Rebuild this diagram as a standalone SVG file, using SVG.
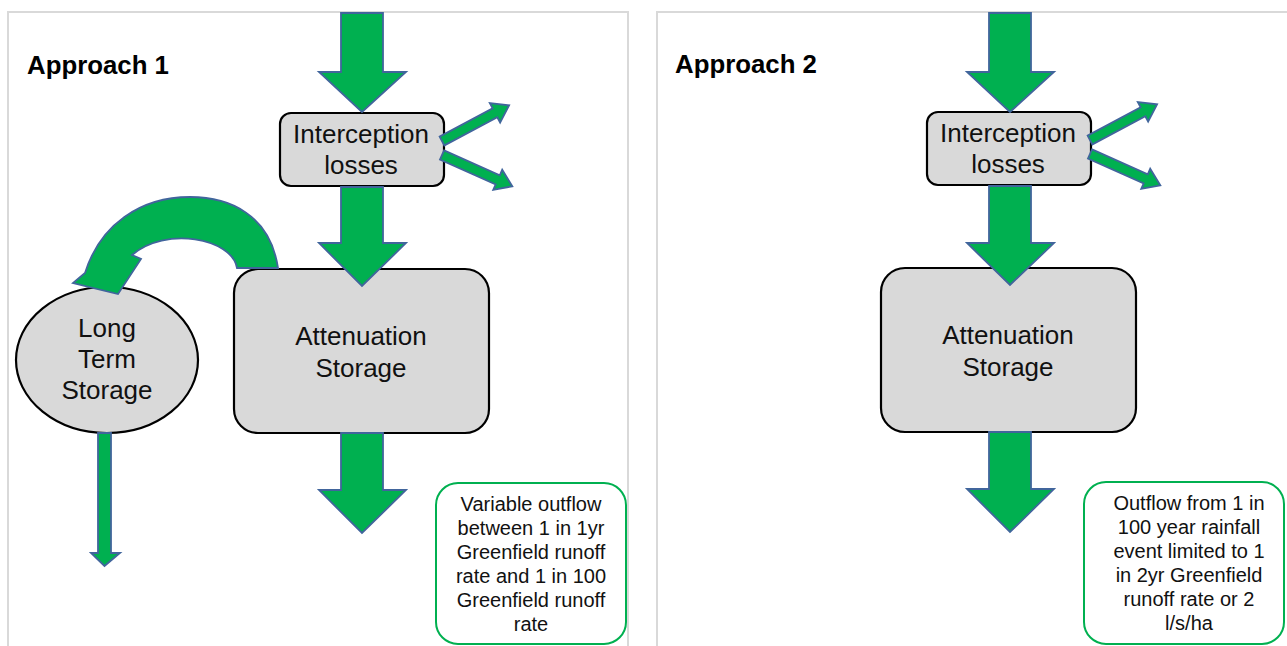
<svg xmlns="http://www.w3.org/2000/svg" width="1287" height="646" viewBox="0 0 1287 646">
<style>
.panel{fill:#fff;stroke:#d9d9d9;stroke-width:2}
.box{fill:#d9d9d9;stroke:#000;stroke-width:2.2}
.arr{fill:#00b050;stroke:#41659c;stroke-width:1.8;stroke-linejoin:miter}
.note{fill:#fff;stroke:#00b050;stroke-width:2}
.title{font-family:"Liberation Sans",Arial,sans-serif;font-weight:bold;font-size:25.8px;fill:#000}
.lbl{font-family:"Liberation Sans",Arial,sans-serif;font-size:26px;fill:#111;text-anchor:middle}
.nt{font-family:"Liberation Sans",Arial,sans-serif;font-size:20px;fill:#111;text-anchor:middle}
</style>
<rect width="1287" height="646" fill="#fff"/>
<rect class="panel" x="8" y="12" width="620" height="660"/>
<rect class="panel" x="657" y="12" width="660" height="660"/>
<text class="title" x="27" y="74">Approach 1</text>
<text class="title" x="675" y="73">Approach 2</text>

<g id="interception1">
  <rect class="box" x="280" y="113" width="164" height="73" rx="11"/>
  <text class="lbl" x="361" y="143">Interception</text>
  <text class="lbl" x="361" y="174">losses</text>
</g>
<g id="attenuation1">
  <rect class="box" x="234" y="269" width="255" height="164" rx="24"/>
  <text class="lbl" x="361" y="345">Attenuation</text>
  <text class="lbl" x="361" y="377">Storage</text>
</g>
<g id="longterm1">
  <ellipse class="box" cx="107" cy="360" rx="91" ry="73"/>
  <text class="lbl" x="107" y="337">Long</text>
  <text class="lbl" x="107" y="368">Term</text>
  <text class="lbl" x="107" y="399">Storage</text>
</g>
<g id="note1">
  <rect class="note" x="436" y="483" width="190" height="161" rx="22"/>
  <text class="nt" x="531" y="511">Variable outflow</text>
  <text class="nt" x="531" y="535">between 1 in 1yr</text>
  <text class="nt" x="531" y="559">Greenfield runoff</text>
  <text class="nt" x="531" y="583">rate and 1 in 100</text>
  <text class="nt" x="531" y="607">Greenfield runoff</text>
  <text class="nt" x="531" y="631">rate</text>
</g>

<g id="interception2">
  <rect class="box" x="927" y="112" width="164" height="73" rx="11"/>
  <text class="lbl" x="1008" y="142">Interception</text>
  <text class="lbl" x="1008" y="173">losses</text>
</g>
<g id="attenuation2">
  <rect class="box" x="881" y="268" width="255" height="164" rx="24"/>
  <text class="lbl" x="1008" y="344">Attenuation</text>
  <text class="lbl" x="1008" y="376">Storage</text>
</g>
<g id="note2">
  <rect class="note" x="1084" y="482" width="200" height="162" rx="22"/>
  <text class="nt" x="1189" y="510">Outflow from 1 in</text>
  <text class="nt" x="1189" y="534">100 year rainfall</text>
  <text class="nt" x="1189" y="558">event limited to 1</text>
  <text class="nt" x="1189" y="582">in 2yr Greenfield</text>
  <text class="nt" x="1189" y="606">runoff rate or 2</text>
  <text class="nt" x="1189" y="630">l/s/ha</text>
</g>

<g id="connectors">
  <!-- panel 1 -->
  <polygon class="arr" points="341,13 383,13 383,72 406,72 362,112 319,72 341,72"/>
  <polygon class="arr" points="341,187 383,187 383,243 406,243 362,286 319,243 341,243"/>
  <polygon class="arr" points="341,433 383,433 383,490 406,490 362,533 319,490 341,490"/>
  <polygon class="arr" points="98,433 111,433 111,553 120,553 104.5,566 91,553 98,553"/>
  <polygon class="arr" transform="translate(442,141) rotate(-28)" points="0,-5 60,-5 60,-11 76,0 60,11 60,5 0,5"/>
  <polygon class="arr" transform="translate(442,155) rotate(24)" points="0,-5 61,-5 61,-11 77,0 61,11 61,5 0,5"/>
  <path class="arr" d="M278,268 C270,215 230,197 190,197 C140,197 100,225 85,273 L73,283 L118,294 L141,259 L132,255 C165,226 232,238 237,268 Z"/>
  <!-- panel 2 -->
  <g transform="translate(648,0)">
    <polygon class="arr" points="341,13 383,13 383,72 406,72 362,112 319,72 341,72"/>
    <polygon class="arr" points="341,186 383,186 383,243 406,243 362,285 319,243 341,243"/>
    <polygon class="arr" points="341,432 383,432 383,489 406,489 362,532 319,489 341,489"/>
    <polygon class="arr" transform="translate(442,140) rotate(-28)" points="0,-5 60,-5 60,-11 76,0 60,11 60,5 0,5"/>
    <polygon class="arr" transform="translate(442,154) rotate(24)" points="0,-5 61,-5 61,-11 77,0 61,11 61,5 0,5"/>
  </g>
</g>
</svg>
